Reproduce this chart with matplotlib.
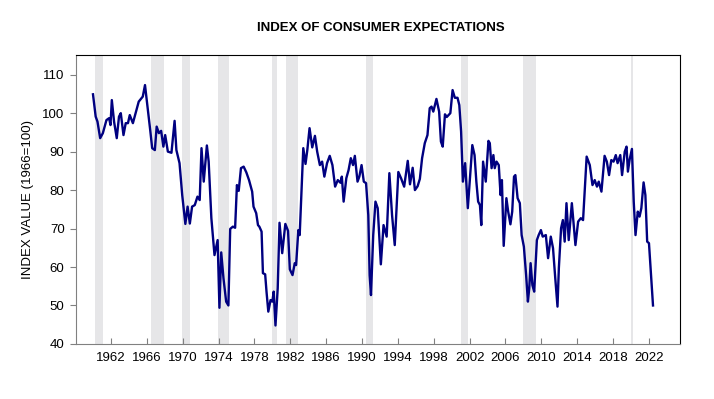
import numpy as np
import matplotlib
matplotlib.use('Agg')
import matplotlib.pyplot as plt

plt.rcParams['font.family'] = ['Liberation Sans', 'DejaVu Sans']

# valores (quarterly hasta 1978, luego mensual)
years_60s = [1960.0, 1960.3, 1960.5, 1960.8, 1961.1, 1961.5, 1961.8, 1961.95, 1962.1, 1962.35,
             1962.65, 1962.9, 1963.1, 1963.4, 1963.65, 1963.9, 1964.1, 1964.45, 1964.8, 1965.1,
             1965.55, 1965.8, 1966.1, 1966.4, 1966.6, 1966.9, 1967.1, 1967.35, 1967.6, 1967.85,
             1968.05, 1968.35, 1968.75, 1969.1, 1969.3, 1969.65, 1969.95]
vals_60s = [104.9, 99.1, 97.8, 93.5, 94.8, 98.2, 98.7, 96.9, 103.4, 97.8,
            93.5, 99.1, 100.0, 94.3, 97.4, 97.4, 99.5, 97.4, 100.4, 103.0,
            104.3, 107.3, 101.3, 95.2, 90.9, 90.4, 96.5, 94.8, 95.4, 91.3,
            94.3, 90.0, 89.7, 98.0, 90.4, 87.0, 78.7]

years_70s = [1970.3, 1970.55, 1970.8, 1971.05, 1971.35, 1971.65, 1971.9, 1972.1, 1972.35, 1972.7,
             1972.9, 1973.2, 1973.55, 1973.9, 1974.1, 1974.3, 1974.55, 1974.85, 1975.1, 1975.3,
             1975.6, 1975.85, 1976.05, 1976.25, 1976.5, 1976.8, 1977.1, 1977.4, 1977.75, 1977.9,
             1978.2, 1978.4, 1978.55, 1978.8, 1978.95, 1979.2, 1979.35, 1979.55, 1979.8]
vals_70s = [71.2, 75.7, 71.3, 75.7, 76.1, 78.3, 77.4, 90.9, 82.2, 91.6,
            87.4, 72.7, 63.1, 67.0, 49.4, 63.8, 57.1, 51.0, 50.0, 69.9,
            70.5, 70.2, 81.3, 79.8, 85.7, 86.1, 84.6, 82.6, 79.6, 75.7,
            74.0, 70.9, 70.5, 69.2, 58.4, 58.1, 53.6, 48.4, 51.4]

years_80s = [1980.0, 1980.15, 1980.35, 1980.6, 1980.8, 1981.1, 1981.45, 1981.75, 1981.95, 1982.25,
             1982.5, 1982.65, 1982.9, 1983.05, 1983.45, 1983.7, 1983.9, 1984.15, 1984.45, 1984.75,
             1985.0, 1985.3, 1985.55, 1985.8, 1986.1, 1986.4, 1986.7, 1987.0, 1987.3, 1987.6,
             1987.75, 1987.95, 1988.25, 1988.5, 1988.75, 1989.0, 1989.2, 1989.5, 1989.7, 1989.95]
vals_80s = [51.0, 53.6, 44.8, 54.5, 71.5, 63.6, 71.2, 69.4, 59.4, 57.9,
            61.0, 60.5, 69.6, 68.3, 90.9, 86.8, 90.4, 96.1, 91.1, 94.1,
            90.0, 86.5, 87.4, 83.5, 87.0, 88.9, 86.5, 80.9, 82.6, 81.9,
            83.5, 77.0, 83.1, 85.2, 88.3, 86.5, 88.9, 82.2, 83.5, 86.5]

years_90s = [1990.2, 1990.45, 1990.7, 1990.85, 1991.0, 1991.25, 1991.5, 1991.75, 1992.1, 1992.4,
             1992.75, 1993.05, 1993.35, 1993.65, 1994.05, 1994.35, 1994.7, 1995.1, 1995.35, 1995.65,
             1995.9, 1996.2, 1996.45, 1996.7, 1997.0, 1997.3, 1997.55, 1997.75, 1997.95, 1998.3,
             1998.6, 1998.8, 1999.0, 1999.25, 1999.45, 1999.65, 1999.85]
vals_90s = [82.2, 81.8, 73.5, 57.9, 52.7, 68.3, 77.0, 75.3, 60.7, 70.9,
            67.9, 84.4, 73.5, 65.7, 84.7, 83.1, 80.9, 87.6, 81.5, 85.8,
            80.0, 81.0, 82.9, 88.3, 92.2, 94.3, 101.3, 101.7, 100.4, 103.7,
            100.4, 92.6, 91.3, 99.7, 99.0, 99.5, 100.0]

years_00s = [2000.1, 2000.35, 2000.65, 2000.85, 2001.05, 2001.25, 2001.5, 2001.8, 2002.3, 2002.55,
             2002.75, 2002.95, 2003.15, 2003.3, 2003.5, 2003.8, 2004.1, 2004.25, 2004.45, 2004.65,
             2004.8, 2005.0, 2005.25, 2005.45, 2005.6, 2005.8, 2006.1, 2006.3, 2006.55, 2006.75,
             2006.95, 2007.1, 2007.35, 2007.6, 2007.8, 2008.05, 2008.3, 2008.5, 2008.65, 2008.8,
             2009.0, 2009.2, 2009.5, 2009.7, 2009.95]
vals_00s = [106.0, 104.0, 104.0, 102.1, 95.2, 82.2, 87.0, 75.3, 91.7, 89.1,
            82.2, 77.0, 76.1, 70.9, 87.4, 82.2, 92.8, 92.2, 85.7, 89.1,
            85.7, 87.4, 86.5, 78.7, 82.6, 65.5, 77.9, 74.4, 71.1, 74.4,
            83.5, 83.9, 77.9, 76.6, 68.3, 65.3, 57.9, 51.0, 54.5, 61.0,
            55.3, 53.6, 67.0, 68.3, 69.6]

years_10s = [2010.15, 2010.5, 2010.75, 2011.05, 2011.3, 2011.55, 2011.8, 2011.95, 2012.2, 2012.4,
             2012.6, 2012.8, 2013.05, 2013.4, 2013.8, 2014.1, 2014.4, 2014.65, 2015.05, 2015.4,
             2015.7, 2015.95, 2016.2, 2016.4, 2016.7, 2017.05, 2017.3, 2017.55, 2017.8, 2018.05,
             2018.3, 2018.5, 2018.8, 2019.0, 2019.3, 2019.5, 2019.65, 2019.85]
vals_10s = [67.9, 68.3, 62.3, 67.9, 64.9, 57.1, 49.7, 59.7, 70.1, 72.2,
            66.6, 76.6, 67.0, 76.6, 65.7, 71.8, 72.7, 72.2, 88.7, 86.5,
            81.3, 82.6, 80.9, 82.2, 79.6, 88.9, 87.4, 83.9, 87.8, 87.4,
            89.1, 87.0, 89.1, 83.9, 90.0, 91.3, 84.8, 88.0]

years_20s = [2020.1, 2020.3, 2020.5, 2020.75, 2020.95, 2021.15, 2021.4, 2021.6, 2021.8, 2022.0,
             2022.2, 2022.45]
vals_20s = [90.7, 77.0, 68.3, 74.4, 73.1, 75.3, 82.0, 78.7, 66.6, 66.2,
            58.8, 50.0]

recesiones = [(1960.25, 1961.1), (1966.5, 1967.9), (1969.95, 1970.85), (1973.9, 1975.2),
              (1980.0, 1980.5), (1981.55, 1982.9), (1990.5, 1991.2), (2001.05, 2001.85),
              (2007.9, 2009.45), (2020.05, 2020.25)]

tick_years = list(range(1962, 2023, 4))

years = np.concatenate([years_60s, years_70s, years_80s, years_90s, years_00s, years_10s, years_20s])
vals = np.concatenate([vals_60s, vals_70s, vals_80s, vals_90s, vals_00s, vals_10s, vals_20s])

fig = plt.figure(figsize=(7.14, 3.99), dpi=100)
ax = fig.add_axes([0.106, 0.138, 0.846, 0.723])

for ini, fin in recesiones:
    ax.axvspan(ini, fin, color='#e6e6e8', lw=0, zorder=0)

ax.plot(years, vals, color='#000080', lw=1.7, zorder=3)

ax.set_xlim(1958.07, 2025.43)
ax.set_ylim(40, 115)
ax.set_yticks(range(40, 111, 10))
ax.set_xticks(tick_years)
ax.tick_params(axis='y', direction='out', length=4, color='#808080', labelsize=9.5, pad=4)
ax.tick_params(axis='x', direction='in', length=4, color='#808080', labelsize=9.5, pad=6)

for s in ['left', 'bottom']:
    ax.spines[s].set_color('#808080')
for s in ['top', 'right']:
    ax.spines[s].set_color('black')

ax.set_ylabel('INDEX VALUE (1966=100)', fontsize=9.5, labelpad=6)
fig.text(0.533, 0.93, 'INDEX OF CONSUMER EXPECTATIONS', ha='center', va='center',
         fontsize=9.5, fontweight='bold')

fig.savefig('out.png', dpi=100)
